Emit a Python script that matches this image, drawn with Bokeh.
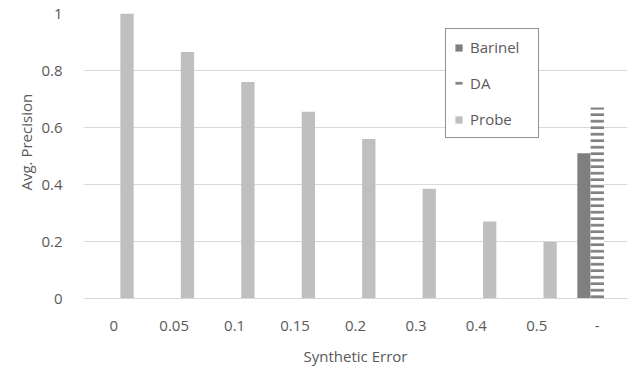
import math
from bokeh.plotting import figure
from bokeh.models import FactorRange, Range1d, FixedTicker, Legend, LegendItem, Title, ColumnDataSource
from bokeh.transform import dodge
from bokeh.embed import file_html
from bokeh.resources import INLINE

# ---- data ----
categories = ["0", "0.05", "0.1", "0.15", "0.2", "0.3", "0.4", "0.5", "-"]
probe_cats = ["0", "0.05", "0.1", "0.15", "0.2", "0.3", "0.4", "0.5"]
probe_values = [1.0, 0.865, 0.76, 0.655, 0.56, 0.385, 0.27, 0.198]
barinel_cats = ["-"]
barinel_values = [0.51]
da_cats = ["-"]
da_values = [0.67]
y_ticks = [0, 0.2, 0.4, 0.6, 0.8, 1]
y_tick_labels = ["0", "0.2", "0.4", "0.6", "0.8", "1"]
x_title = "Synthetic Error"
y_title = "Avg. Precision"

FONT = "Open Sans"
TXT = "#595959"
GRID = "#d9d9d9"
FS = "15px"

p = figure(width=634, height=373, output_backend="svg", toolbar_location=None,
           x_range=FactorRange(*categories), y_range=Range1d(0, 1),
           min_border_left=83, min_border_right=7, min_border_top=13, min_border_bottom=75)
p.outline_line_color = None
p.background_fill_color = "white"
p.border_fill_color = "white"

bw = 0.22
src_probe = ColumnDataSource(dict(x=probe_cats, top=probe_values))
src_bar = ColumnDataSource(dict(x=barinel_cats, top=barinel_values))
src_da = ColumnDataSource(dict(x=da_cats, top=da_values))

r_bar = p.vbar(x=dodge("x", -0.22, range=p.x_range), top="top", bottom=0, width=bw, source=src_bar,
               fill_color="#7f7f7f", line_color=None)
r_da = p.vbar(x=dodge("x", 0.0, range=p.x_range), top="top", bottom=0, width=bw, source=src_da,
              fill_color="white", line_color=None, hatch_pattern="horizontal_line",
              hatch_color="#7f7f7f", hatch_scale=6.5, hatch_weight=2.7)
r_probe = p.vbar(x=dodge("x", 0.22, range=p.x_range), top="top", bottom=0, width=bw, source=src_probe,
                 fill_color="#bfbfbf", line_color=None)

# axes
p.yaxis.ticker = FixedTicker(ticks=y_ticks)
p.yaxis.major_label_overrides = {t: l for t, l in zip(y_ticks, y_tick_labels)}
p.yaxis.axis_line_color = None
p.yaxis.major_tick_line_color = None
p.yaxis.minor_tick_line_color = None
p.yaxis.major_label_standoff = 15
p.yaxis.major_label_text_font = FONT
p.yaxis.major_label_text_font_size = FS
p.yaxis.major_label_text_color = TXT

p.xaxis.axis_line_color = GRID
p.xaxis.major_tick_line_color = None
p.xaxis.minor_tick_line_color = None
p.xaxis.major_label_standoff = 16
p.xaxis.major_label_text_font = FONT
p.xaxis.major_label_text_font_size = FS
p.xaxis.major_label_text_color = TXT
p.xaxis.axis_label = x_title
p.xaxis.axis_label_text_font = FONT
p.xaxis.axis_label_text_font_size = FS
p.xaxis.axis_label_text_font_style = "normal"
p.xaxis.axis_label_text_color = TXT
p.xaxis.axis_label_standoff = 12

p.xgrid.grid_line_color = None
p.ygrid.grid_line_color = GRID
p.ygrid.grid_line_width = 1

ytitle = Title(text=y_title, align="left", offset=108, text_font=FONT, text_font_size=FS,
               text_font_style="normal", text_color=TXT, standoff=6)
p.add_layout(ytitle, "left")

legend = Legend(items=[LegendItem(label="Barinel", renderers=[r_bar]),
                       LegendItem(label="DA", renderers=[r_da]),
                       LegendItem(label="Probe", renderers=[r_probe])],
                location=(362, 160), orientation="vertical",
                border_line_color="#262626", border_line_width=1.5,
                background_fill_color="white", background_fill_alpha=1,
                padding=8, spacing=16, label_height=20, label_width=60,
                glyph_height=9, glyph_width=9,
                label_standoff=7, margin=0,
                label_text_font=FONT, label_text_font_size=FS, label_text_color=TXT)
p.add_layout(legend, "center")

open("out.html", "w").write(file_html(p, INLINE))
